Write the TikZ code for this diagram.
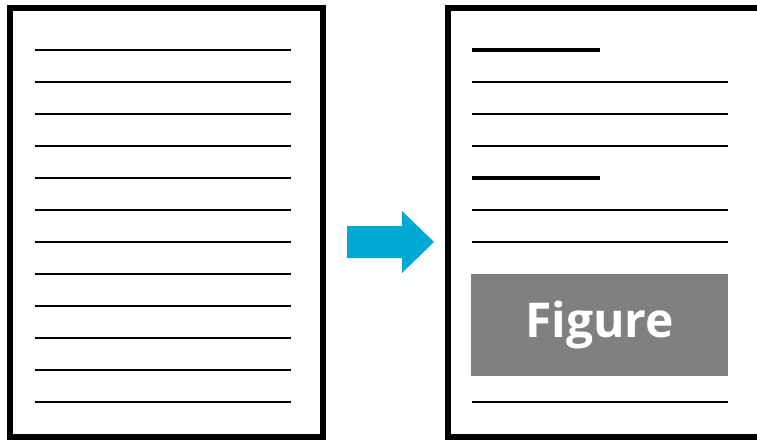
\documentclass[tikz,border=0pt]{standalone}
\usepackage{fontspec}
\setmainfont{Open Sans}
\usepackage{xcolor}
\usepackage{tikz}
\usetikzlibrary{positioning,calc}

\definecolor{arrowblue}{RGB}{0,170,212}
\definecolor{figgray}{RGB}{128,128,128}

\begin{document}
\begin{tikzpicture}[
  x=1pt, y=-1pt,
  page/.style={draw, line width=6pt, inner sep=0pt, outer sep=0pt, fill=white, minimum height=428.5pt},
  textline/.style={line width=2.5pt},
  headline/.style={line width=4pt},
  figbox/.style={fill=figgray, inner sep=0pt, minimum width=257pt, minimum height=102pt,
    text=white, font=\fontsize{48}{56}\selectfont\bfseries},
]
\useasboundingbox (0,0) rectangle (757,439);
\clip (0,0) rectangle (757,439);
% pages
\node[page, minimum width=312.5pt] (before) at (166.25,222.25) {};
\node[page, anchor=west, minimum width=500pt] (after) at (447.5,222.25) {};
% plain text on the left page
\foreach \y in {50,82,...,402}
  \draw[textline] (35,\y) -- (291,\y);
% text on the right page
\foreach \y in {82,114,146,210,242,402}
  \draw[textline] (472,\y) -- (728,\y);
\foreach \y in {50,178}
  \draw[headline] (472,\y) -- (600,\y);
\node[figbox] (fig) at (599.5,325) {Figure};
% arrow
\fill[arrowblue] (347,226) -- (402,226) -- (402,211) -- (434,242) -- (402,273) -- (402,258) -- (347,258) -- cycle;
\end{tikzpicture}
\end{document}
